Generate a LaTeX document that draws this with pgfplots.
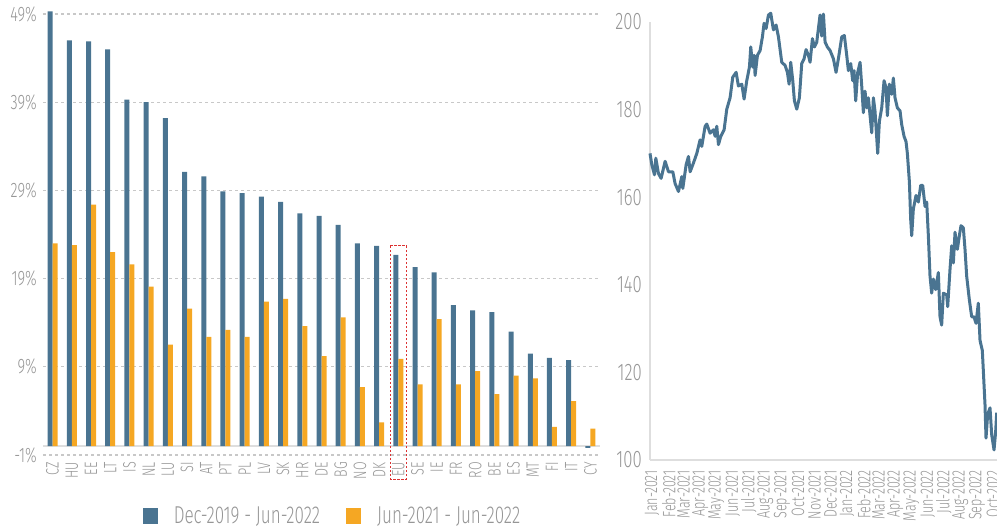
\documentclass[border=0pt]{standalone}
\usepackage{pgfplots}
\usepackage{pgfplotstable}
\pgfplotsset{compat=1.18}
\usepackage{fontspec}
\setmainfont{Fira Sans}[UprightFont=* Light, FakeStretch=0.7]
\definecolor{cblue}{RGB}{74,116,145}
\definecolor{corange}{RGB}{245,167,35}
\definecolor{ctext}{RGB}{150,150,150}
\definecolor{cgrid}{RGB}{200,200,200}
\definecolor{caxis}{RGB}{222,222,222}
\definecolor{cred}{RGB}{220,50,50}

\pgfplotstableread{
idx cat a b
0 CZ 49.3 23.0
1 HU 46.0 22.8
2 EE 45.9 27.4
3 LT 45.0 22.0
4 IS 39.3 20.6
5 NL 39.0 18.1
6 LU 37.2 11.5
7 SI 31.1 15.6
8 AT 30.6 12.4
9 PT 28.9 13.2
10 PL 28.7 12.4
11 LV 28.3 16.4
12 SK 27.7 16.7
13 HR 26.4 13.6
14 DE 26.1 10.2
15 BG 25.1 14.6
16 NO 23.0 6.7
17 DK 22.7 2.7
18 EU 21.7 9.9
19 SE 20.3 7.0
20 IE 19.7 14.4
21 FR 16.0 7.0
22 RO 15.4 8.5
23 BE 15.2 5.9
24 ES 13.0 8.0
25 MT 10.5 7.7
26 FI 10.0 2.2
27 IT 9.75 5.1
28 CY -0.2 2.0
}\bardata

\pgfplotstableread{
d v
-4 170.0
-0.6 167.4
4.4 165.1
6.9 168.9
11.8 165.4
16.8 164.3
24.3 168.2
30.6 165.8
38.7 165.8
43.0 163.1
49.3 161.3
55.5 164.7
57.4 162.0
63.6 167.4
68.0 169.3
71.1 165.8
77.3 167.8
83.6 170.0
89.8 173.1
92.9 171.6
99.2 176.2
102.3 176.7
108.5 174.6
114.7 175.4
117.9 173.9
121.0 176.2
124.1 172.0
128.5 173.9
134.7 175.4
139.7 180.1
145.9 182.7
150.9 187.4
157.2 188.5
161.5 185.4
167.8 185.8
172.1 182.4
177.1 186.6
182.1 189.7
184.6 194.3
188.3 189.7
190.8 192.4
192.7 187.8
197.1 192.4
202.1 193.5
206.4 196.6
209.5 199.7
213.3 198.5
217.7 201.6
222.0 202.0
227.0 198.2
232.0 199.3
236.4 196.6
242.6 190.8
248.8 190.1
253.2 188.5
256.3 185.8
259.4 190.8
263.2 186.6
266.3 182.0
270.7 180.1
275.6 182.7
280.0 190.5
284.4 191.6
288.1 193.7
292.5 192.4
295.6 190.8
300.0 196.2
303.7 194.3
308.1 195.4
311.2 198.5
314.3 201.6
317.4 196.8
320.6 201.8
323.7 195.4
328.0 194.3
333.0 193.5
339.3 191.6
344.2 188.5
348.6 191.6
354.9 196.6
359.8 196.9
364.2 192.4
367.3 188.9
371.7 190.5
375.4 186.6
377.9 188.9
381.0 182.0
384.8 188.5
389.2 190.8
392.3 185.4
395.4 179.3
398.5 184.2
401.6 180.4
404.7 182.7
407.9 178.6
411.0 174.7
414.1 182.7
417.2 179.6
422.2 170.0
425.3 177.3
429.7 180.4
434.1 186.6
437.8 185.0
440.3 178.6
444.0 185.8
448.4 183.5
451.5 187.2
454.6 182.7
459.0 180.4
464.0 179.7
467.1 176.6
471.5 173.9
475.2 172.7
477.7 170.0
481.5 163.5
483.9 155.0
485.8 151.2
488.9 157.3
493.9 160.4
498.3 158.9
502.7 162.7
506.4 162.7
510.8 157.9
513.9 158.9
517.0 151.2
520.1 142.0
523.2 138.1
526.4 141.3
530.7 138.9
535.7 142.8
538.8 132.7
541.9 130.8
545.1 138.1
551.3 137.7
553.2 135.0
557.5 143.5
560.7 148.9
563.8 145.0
566.9 152.0
571.3 148.1
575.0 151.2
578.1 153.5
582.5 153.0
585.6 148.1
588.7 142.0
593.7 136.6
598.1 132.7
602.4 132.7
606.2 131.2
610.5 135.8
613.7 127.3
618.0 125.0
619.9 120.4
623.0 112.7
624.9 105.0
628.0 110.4
632.4 111.9
635.5 105.8
639.9 102.3
643.0 106.5
644.9 110.8
}\linedata

\begin{document}
\begin{tikzpicture}
\useasboundingbox (0,0) rectangle (997bp,529bp);
\begin{axis}[
  width=557bp, height=441bp, scale only axis,
  at={(43bp,74bp)}, anchor=south west,
  xmin=-0.5, xmax=28.5, ymin=-1, ymax=49,
  ybar=0pt, bar width=5bp,
  xtick={0,...,28},
  xticklabels={CZ,HU,EE,LT,IS,NL,LU,SI,AT,PT,PL,LV,SK,HR,DE,BG,NO,DK,EU,SE,IE,FR,RO,BE,ES,MT,FI,IT,CY},
  ytick={-1,9,19,29,39,49},
  yticklabels={-1\%,9\%,19\%,29\%,39\%,49\%},
  ymajorgrids, grid style={cgrid, dash pattern=on 3bp off 3bp, line width=1.1bp},
  axis line style={draw=none}, major tick length=0pt,
  tick label style={text=ctext},
  yticklabel style={font=\fontsize{21}{21}\selectfont, anchor=east, inner sep=0pt},
  yticklabel shift=6bp,
  xticklabel style={font=\fontsize{18}{18}\selectfont, rotate=90, anchor=east, inner sep=0pt},
  xticklabel shift=7bp,
  clip=false,
  legend columns=2,
  legend style={at={(0.518,-0.138)}, anchor=center, draw=none, fill=none,
    font=\fontsize{24.5}{24.5}\selectfont, text=ctext, inner sep=0pt,
    nodes={inner sep=0pt},
    /tikz/every even column/.append style={column sep=26bp},
    /tikz/every odd column/.append style={column sep=16bp}},
]
\draw[caxis, line width=2bp] (axis cs:-0.5,0) -- (axis cs:28.5,0);
\addplot[fill=cblue, draw=none, legend image code/.code={\fill[cblue] (0bp,-8bp) rectangle (15bp,8bp);}] table[x=idx,y=a]{\bardata};
\addplot[fill=corange, draw=none, legend image code/.code={\fill[corange] (0bp,-8bp) rectangle (15bp,8bp);}] table[x=idx,y=b]{\bardata};
\legend{Dec-2019 - Jun-2022, Jun-2021 - Jun-2022}
\draw[cred, dash pattern=on 2.5bp off 1.5bp, line width=1bp] (axis cs:17.58,22.7) rectangle ([yshift=-24bp]axis cs:18.42,-1);
\end{axis}

\begin{axis}[
  width=347bp, height=438bp, scale only axis,
  at={(650bp,69bp)}, anchor=south west,
  xmin=-4, xmax=645.5, ymin=100, ymax=200,
  axis x line=bottom, axis y line=left,
  axis line style={-, caxis, line width=1.5bp},
  major tick length=0pt,
  /pgf/number format/assume math mode=true,
  ytick={100,120,140,160,180,200},
  tick label style={text=ctext},
  yticklabel style={font=\fontsize{24}{24}\selectfont, anchor=east, inner sep=0pt},
  yticklabel shift=8bp,
  xtick={0,31,59,90,120,151,181,212,243,273,304,334,365,396,424,455,485,516,546,577,608,638},
  xticklabels={Jan-2021,Feb-2021,Mar-2021,Apr-2021,May-2021,Jun-2021,Jul-2021,Aug-2021,Sep-2021,Oct-2021,Nov-2021,Dec-2021,Jan-2022,Feb-2022,Mar-2022,Apr-2022,May-2022,Jun-2022,Jul-2022,Aug-2022,Sep-2022,Oct-2022},
  xticklabel style={font=\fontsize{18}{18}\selectfont, rotate=90, anchor=east, inner sep=0pt},
  xticklabel shift=10bp,
  clip=false,
]
\addplot[cblue, line width=3bp, line join=round] table[x=d,y=v]{\linedata};
\end{axis}
\end{tikzpicture}
\end{document}
